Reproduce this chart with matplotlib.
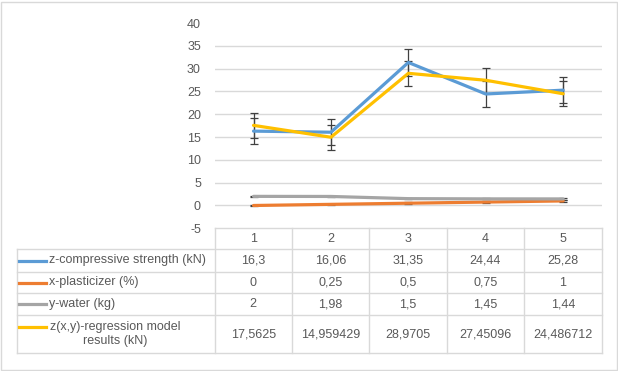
import matplotlib
matplotlib.use("Agg")
import matplotlib.pyplot as plt
from matplotlib.lines import Line2D
from matplotlib.patches import Rectangle

plt.rcParams['font.family'] = ['Liberation Sans', 'DejaVu Sans']

# ---------------- data ----------------
categories = [1, 2, 3, 4, 5]
series_names = ["z-compressive strength (kN)", "x-plasticizer (%)", "y-water (kg)",
                "z(x,y)-regression model\nresults (kN)"]
z_strength = [16.3, 16.06, 31.35, 24.44, 25.28]
x_plasticizer = [0, 0.25, 0.5, 0.75, 1]
y_water = [2, 1.98, 1.5, 1.45, 1.44]
z_model = [17.5625, 14.959429, 28.9705, 27.45096, 24.486712]
# standard-error bars
err_values = [2.91, 0.18, 0.13, 2.75]
y_ticks = [-5, 0, 5, 10, 15, 20, 25, 30, 35, 40]

colors = ["#5B9BD5", "#ED7D31", "#A5A5A5", "#FFC000"]
series = [z_strength, x_plasticizer, y_water, z_model]
text_col = "#595959"
grid_col = "#D9D9D9"

W, H = 618, 371
fig = plt.figure(figsize=(W / 100, H / 100), dpi=100)


def fx(px):
    return px / W


def fy(py):
    return 1 - py / H


# outer border
fig.patches.append(Rectangle((fx(0.5), fy(369.5)), fx(616.5), 1 - fy(368) - 0.001,
                             transform=fig.transFigure, fill=False,
                             edgecolor=grid_col, lw=1.0))

# plot area
left_px, right_px, top_px, bot_px = 214.8, 601.9, 23.0, 228.3
ax = fig.add_axes([fx(left_px), fy(bot_px), fx(right_px - left_px), (bot_px - top_px) / H])
ax.set_xlim(0.5, 5.5)
ax.set_ylim(-5, 40)
ax.set_yticks(y_ticks)
ax.set_yticklabels([str(t) for t in y_ticks])
ax.set_xticks([])
ax.tick_params(axis='y', length=0, pad=10, labelsize=9, labelcolor=text_col)
for s in ax.spines.values():
    s.set_visible(False)
ax.yaxis.grid(True, color=grid_col, lw=1.0)
ax.set_axisbelow(True)
gl = ax.get_ygridlines()
gl[-1].set_visible(False)
gl[0].set_visible(False)

for vals, c in zip(series, colors):
    ax.plot(categories, vals, color=c, lw=2.3, solid_joinstyle='round',
            solid_capstyle='round', zorder=3)
for vals, e in zip(series, err_values):
    ax.errorbar(categories, vals, yerr=e, fmt='none', ecolor='#404040',
                elinewidth=0.9, capsize=2.6, capthick=0.9, zorder=2.5)

# ---------------- data table ----------------
col_edges = [214.8, 291.7, 369.3, 446.6, 524.2, 601.9]
row_edges = [228.3, 249.3, 271.7, 293.3, 315.0, 353.3]
tbl_left = 16.6


def hline(y, x0, x1):
    fig.add_artist(Line2D([fx(x0), fx(x1)], [fy(y), fy(y)], transform=fig.transFigure,
                          color=grid_col, lw=1.0))


def vline(x, y0, y1):
    fig.add_artist(Line2D([fx(x), fx(x)], [fy(y0), fy(y1)], transform=fig.transFigure,
                          color=grid_col, lw=1.0))


hline(row_edges[0], col_edges[0], col_edges[-1])
for y in row_edges[1:]:
    hline(y, tbl_left, col_edges[-1])
vline(tbl_left, row_edges[1], row_edges[-1])
for x in col_edges:
    vline(x, row_edges[0], row_edges[-1])


def fmt(v):
    s = repr(float(v))
    if s.endswith('.0'):
        s = s[:-2]
    return s.replace('.', ',')


fs = 9
# header
for i, c in enumerate(categories):
    xc = (col_edges[i] + col_edges[i + 1]) / 2
    yc = (row_edges[0] + row_edges[1]) / 2
    fig.text(fx(xc), fy(yc), str(c), ha='center', va='center', fontsize=fs, color=text_col)

for r, (name, vals, c) in enumerate(zip(series_names, series, colors)):
    yc = (row_edges[r + 1] + row_edges[r + 2]) / 2
    if '\n' in name:
        key_y = yc - 7.5
        fig.text(fx(115), fy(yc), name, ha='center', va='center', fontsize=fs,
                 color=text_col, multialignment='center', linespacing=1.25)
    else:
        key_y = yc
        fig.text(fx(49.3), fy(yc), name, ha='left', va='center', fontsize=fs, color=text_col)
    fig.add_artist(Line2D([fx(19), fx(46)], [fy(key_y), fy(key_y)], transform=fig.transFigure,
                          color=c, lw=2.3))
    for i, v in enumerate(vals):
        xc = (col_edges[i] + col_edges[i + 1]) / 2
        fig.text(fx(xc), fy(yc), fmt(v), ha='center', va='center', fontsize=fs, color=text_col)

fig.savefig("out.png", dpi=100)
